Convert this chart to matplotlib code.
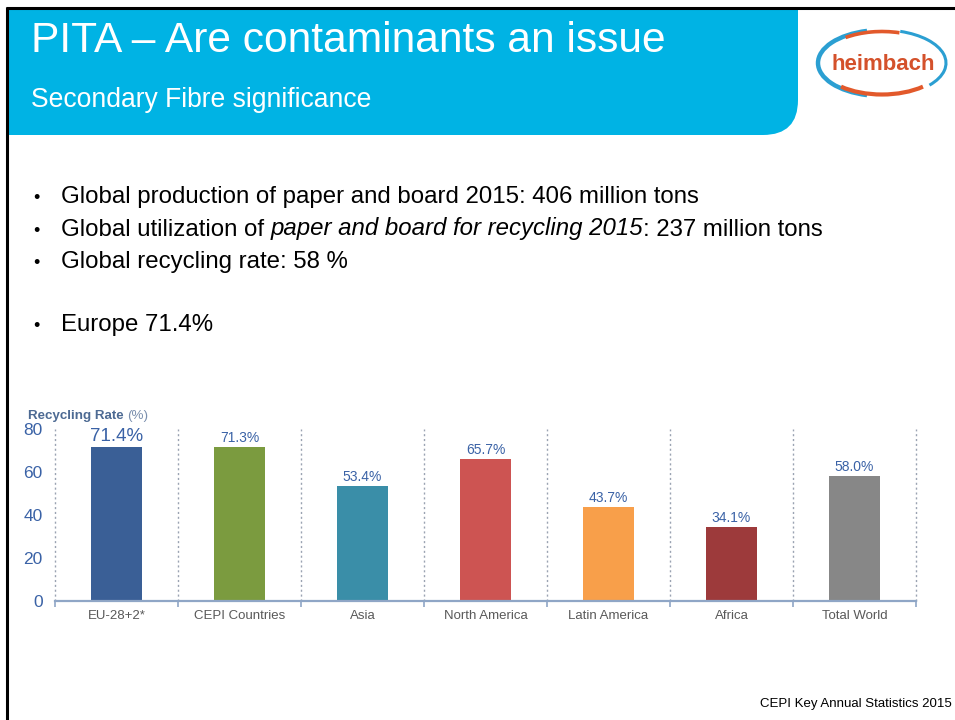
import matplotlib
matplotlib.use("Agg")
import matplotlib.pyplot as plt
from matplotlib.path import Path
from matplotlib.patches import PathPatch, Ellipse, Arc
import numpy as np

plt.rcParams['font.family'] = ['Liberation Sans', 'DejaVu Sans']

# ---------------- data ----------------
categories = ["EU-28+2*", "CEPI Countries", "Asia", "North America",
              "Latin America", "Africa", "Total World"]
rates = [71.4, 71.3, 53.4, 65.7, 43.7, 34.1, 58.0]
bar_colors = ["#3a5f96", "#7b9b3f", "#3a8ea8", "#cd5452", "#f89f4a", "#9d3a3b", "#878787"]
yticks = [0, 20, 40, 60, 80]
title = "PITA \u2013 Are contaminants an issue"
subtitle = "Secondary Fibre significance"
source = "CEPI Key Annual Statistics 2015"

W, H = 955, 720
fig = plt.figure(figsize=(W / 100, H / 100), dpi=100)
fig.patch.set_facecolor("white")

# background / slide decoration axes in pixel coordinates
bg = fig.add_axes([0, 0, 1, 1], zorder=0)
bg.set_xlim(0, W)
bg.set_ylim(H, 0)
bg.axis("off")

# banner with rounded bottom-right corner
verts = [(8, 8), (798, 8), (798, 100), (798, 135), (763, 135), (8, 135), (8, 8)]
codes = [Path.MOVETO, Path.LINETO, Path.LINETO, Path.CURVE3, Path.CURVE3, Path.LINETO, Path.CLOSEPOLY]
bg.add_patch(PathPatch(Path(verts, codes), facecolor="#00b3e4", edgecolor="none"))

# slide border (left and top)
bg.plot([7, 7], [7, H], color="black", lw=2.2, solid_capstyle="butt")
bg.plot([6, W], [7.5, 7.5], color="black", lw=2.2, solid_capstyle="butt")

bg.text(31, 52, title, color="white", fontsize=30.6, va="baseline", ha="left")
bg.text(31, 107, subtitle, color="white", fontsize=19.1, va="baseline", ha="left")

# logo
cx, cy, ew, eh = 882, 63, 128, 66
bg.add_patch(Ellipse((cx, cy), ew, eh, facecolor="white", edgecolor="none"))
bg.add_patch(Arc((cx, cy), ew, eh, theta1=115, theta2=245, color="#2b9fd2", lw=3.2))
bg.add_patch(Arc((cx, cy), ew, eh, theta1=-60, theta2=25, color="#2b9fd2", lw=2.2))
bg.add_patch(Arc((cx, cy), ew - 4, eh - 3, theta1=30, theta2=150, color="#e2592b", lw=3.0))
bg.add_patch(Arc((cx, cy), ew - 4, eh - 3, theta1=215, theta2=300, color="#e2592b", lw=2.6))
bg.text(cx + 1, cy + 1, "heimbach", color="#d4512b", fontsize=16, fontweight="bold",
        ha="center", va="center")

# bullets
fs_b = 17.3
bullet_x, text_x = 33, 61
renderer = fig.canvas.get_renderer()

def put_runs(y, runs):
    x = text_x
    for s, style in runs:
        t = bg.text(x, y, s, fontsize=fs_b, style=style, va="baseline", ha="left", color="black")
        bb = t.get_window_extent(renderer=renderer)
        x += bb.width
    bg.text(bullet_x, y, "\u2022", fontsize=fs_b * 0.75, va="baseline", ha="left")

put_runs(203, [("Global production of paper and board 2015: 406 million tons", "normal")])
put_runs(235.5, [("Global utilization of ", "normal"),
                 ("paper and board for recycling 2015", "italic"),
                 (": 237 million tons", "normal")])
put_runs(268, [("Global recycling rate: 58 %", "normal")])
put_runs(331, [("Europe 71.4%", "normal")])

# chart label
t1 = bg.text(28, 419, "Recycling Rate ", fontsize=9.6, fontweight="bold", color="#4d6a93",
             va="baseline", ha="left")
bb = t1.get_window_extent(renderer=renderer)
bg.text(28 + bb.width, 419, "(%)", fontsize=9.6, color="#7a8fae", va="baseline", ha="left")

bg.text(952, 707, source, fontsize=9.5, color="black", ha="right", va="baseline")

# ---------------- bar chart ----------------
left_px, right_px = 55, 916
base_px, top_px = 600.7, 428.7
ax = fig.add_axes([left_px / W, (H - base_px) / H, (right_px - left_px) / W, (base_px - top_px) / H],
                  zorder=2)
ax.patch.set_alpha(0)
x = np.arange(len(categories))
bars = ax.bar(x, rates, width=0.41, color=bar_colors, zorder=3)
ax.set_xlim(-0.5, len(categories) - 0.5)
ax.set_ylim(0, 80)

for xi, v in zip(x, rates):
    big = xi == 0
    ax.annotate(f"{v:.1f}%", (xi, v), xytext=(0, 1.5), textcoords="offset points",
                ha="center", va="bottom", fontsize=13.5 if big else 10,
                color="#3a62a6")

ax.set_xticks(x)
ax.set_xticklabels(categories, fontsize=9.5, color="#595959")
ax.tick_params(axis="x", which="major", length=0, pad=7)
bounds = np.arange(-0.5, len(categories), 1.0)
ax.set_xticks(bounds, minor=True)
ax.tick_params(axis="x", which="minor", length=4, width=1.2, color="#8fa6c6", direction="out")
for b in bounds:
    ax.axvline(b, color="#9aa3b2", lw=1.0, ls=(0, (1.5, 2.0)), zorder=1, clip_on=False)

ax.set_yticks(yticks)
ax.set_yticklabels([str(v) for v in yticks], fontsize=12.5, color="#3a62a6")
ax.tick_params(axis="y", length=0, pad=9)

for s in ["top", "right", "left"]:
    ax.spines[s].set_visible(False)
ax.spines["bottom"].set_color("#8fa6c6")
ax.spines["bottom"].set_linewidth(1.6)
ax.spines["bottom"].set_zorder(4)

fig.savefig("out.png", dpi=100, facecolor="white")
